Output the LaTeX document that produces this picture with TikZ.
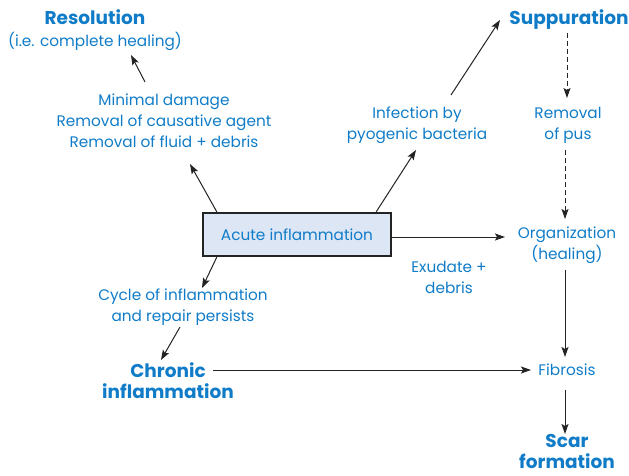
\documentclass[tikz,border=0pt]{standalone}
\usepackage{fontspec}
\setmainfont{Poppins}
\usetikzlibrary{arrows.meta,calc}
\definecolor{txtblue}{RGB}{16,124,200}
\definecolor{boxfill}{RGB}{220,230,244}
\definecolor{linegray}{RGB}{35,35,35}
\newcommand{\bigbold}{\fontsize{18.5}{21}\selectfont\bfseries}
\begin{document}
\begin{tikzpicture}[x=1pt,y=-1pt,
  lbl/.style={text=txtblue,align=center,inner sep=0pt,font=\fontsize{15.3}{21}\selectfont},
  head/.style={lbl,font=\bigbold},
  stagebox/.style={draw=linegray,line width=2.5pt,fill=boxfill,minimum width=188pt,minimum height=43pt,
    text=txtblue,font=\fontsize{15.3}{21}\selectfont,inner sep=0pt},
  arr/.style={draw=linegray,line width=1pt,-{Stealth[length=10pt,width=7pt,inset=2pt]}},
  darr/.style={arr,dashed,dash pattern=on 5pt off 3pt}]
\useasboundingbox (0,0) rectangle (629,476);

% stages and labels
\node[stagebox] (acute) at (297,234.5) {Acute inflammation};
\node[lbl] (res) at (95,30) {{\bigbold Resolution}\\[1pt](i.e. complete healing)};
\node[lbl] (mini) at (164,121) {Minimal damage\\Removal of causative agent\\Removal of fluid + debris};
\node[lbl] (infect) at (417,125) {Infection by\\pyogenic bacteria};
\node[head] (supp) at (569,19.5) {Suppuration};
\node[lbl] (pus) at (568,125) {Removal\\of pus};
\node[lbl] (org) at (567,245) {Organization\\(healing)};
\node[lbl] (exud) at (449,277) {Exudate +\\debris};
\node[lbl] (cycle) at (183,307) {Cycle of inflammation\\and repair persists};
\node[head] (chronic) at (168,381) {Chronic\\inflammation};
\node[lbl] (fib) at (567,370) {Fibrosis};
\node[head] (scar) at (567,451) {Scar\\formation};

% connectors
\draw[arr] ($(acute.north west)+(15,0)$) -- ($(mini.center)+(26,43)$);
\draw[arr] ($(mini.center)+(-19,-39)$) -- ($(res.center)+(36,25)$);
\draw[arr] ($(acute.north east)+(-16,0)$) -- ($(infect.center)+(-1,25)$);
\draw[arr] ($(infect.center)+(34,-30)$) -- ($(supp.center)+(-69,0.5)$);
\draw[darr] ($(supp.center)+(-2,13.5)$) -- ($(pus.center)+(-1,-27)$);
\draw[darr] ($(pus.center)+(-3,25)$) -- ($(org.center)+(-2,-26)$);
\draw[arr] ($(acute.east)+(0,2.5)$) -- ($(org.center)+(-62,-8)$);
\draw[arr] ($(acute.south west)+(15,0)$) -- ($(cycle.center)+(19,-19)$);
\draw[arr] ($(cycle.center)+(-3,20)$) -- ($(chronic.center)+(-7,-21)$);
\draw[arr] ($(chronic.center)+(45,-11)$) -- ($(fib.center)+(-36,0)$);
\draw[arr] ($(org.center)+(-2,25)$) -- ($(fib.center)+(-2,-13)$);
\draw[arr] ($(fib.center)+(-2,20)$) -- ($(scar.center)+(-2,-17)$);
\end{tikzpicture}
\end{document}
